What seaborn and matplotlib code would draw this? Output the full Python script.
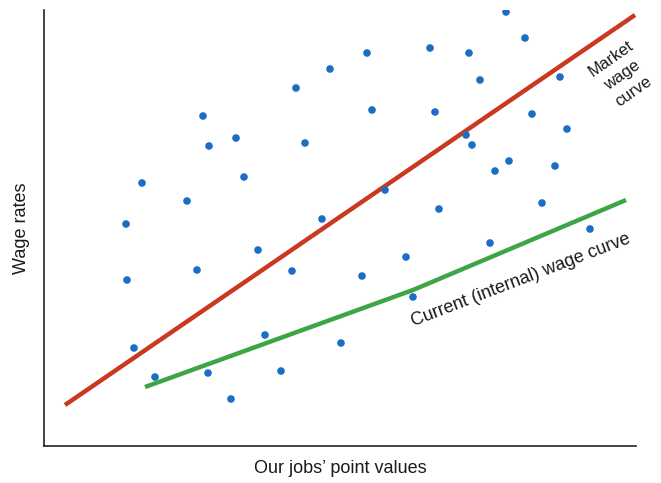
import matplotlib
matplotlib.use("Agg")
import matplotlib.pyplot as plt
import seaborn as sns
import pandas as pd

# Puntos de trabajos (valor en puntos, salario) - unidades arbitrarias
job_points = [82, 98, 83, 90, 111, 143, 159, 165, 153, 164, 187, 192, 200, 214, 221, 237,
              252, 261, 248, 278, 286, 297, 323, 328, 318, 341, 362, 369, 386, 391, 395,
              425, 422, 428, 436, 446, 451, 462, 465, 481, 488, 498, 511, 516, 523, 546]
wages = [222, 263, 166, 98, 69, 245, 330, 300, 176, 73, 47, 308, 269, 196, 111, 75,
         358, 303, 175, 227, 377, 103, 393, 336, 170, 256, 189, 149, 398, 334, 237,
         393, 311, 301, 366, 203, 275, 434, 285, 408, 332, 243, 280, 369, 317, 217]

# Curvas
market_x = [21, 591]
market_y = [41, 431]
current_x = [101, 369, 582]
current_y = [59, 156, 246]

sns.set_style("white")
plt.rcParams["font.family"] = ["Liberation Sans Narrow", "Liberation Sans", "DejaVu Sans"]

fig = plt.figure(figsize=(6.61, 4.83), dpi=100)
ax = fig.add_axes([44 / 661, 37 / 483, 592 / 661, 436 / 483])

dots = pd.DataFrame({"points": job_points, "wage": wages})
sns.scatterplot(data=dots, x="points", y="wage", ax=ax, color="#1c6ec4",
                s=30, edgecolor="none", zorder=3)
sns.lineplot(x=market_x, y=market_y, ax=ax, color="#c9381f", linewidth=3.2,
             solid_capstyle="butt", zorder=2)
sns.lineplot(x=current_x, y=current_y, ax=ax, color="#3ca646", linewidth=3.2,
             solid_capstyle="butt", zorder=2, sort=False)

ax.set_xlim(0, 592)
ax.set_ylim(0, 436)
ax.set_xticks([])
ax.set_yticks([])
sns.despine(ax=ax)
for side in ["left", "bottom"]:
    ax.spines[side].set_color("#222222")
    ax.spines[side].set_linewidth(1.2)

ax.set_xlabel("Our jobs\u2019 point values", fontsize=13, color="#1a1a1a", labelpad=10)
ax.set_ylabel("Wage rates", fontsize=13, color="#1a1a1a", labelpad=10)

ax.text(578, 371, "Market\nwage\ncurve", rotation=35, ha="center", va="center",
        rotation_mode="anchor", fontsize=12, color="#1a1a1a", linespacing=1.4)
ax.text(477, 166, "Current (internal) wage curve", rotation=21, ha="center",
        va="center", rotation_mode="anchor", fontsize=13, color="#1a1a1a")

fig.savefig("out.png", dpi=100)
